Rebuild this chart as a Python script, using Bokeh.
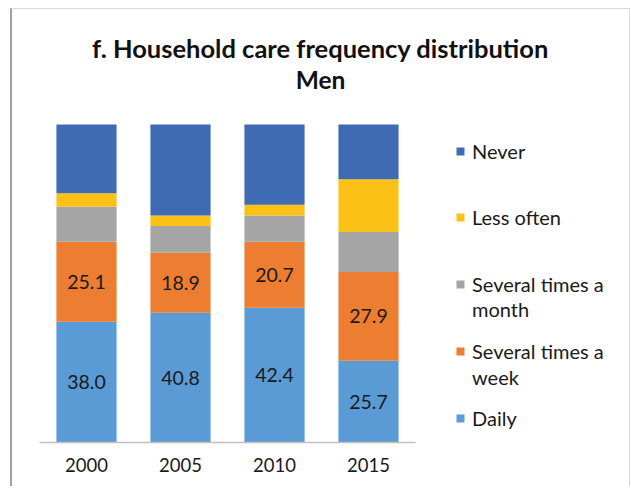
from bokeh.plotting import figure
from bokeh.models import (ColumnDataSource, Legend, LegendItem, LabelSet, Label,
                          FixedTicker, Range1d)
from bokeh.core.properties import value
from bokeh.embed import file_html
from bokeh.resources import INLINE

years = ["2000", "2005", "2010", "2015"]
categories = ["Daily", "Several times a week", "Several times a month", "Less often", "Never"]
daily = [38.0, 40.8, 42.4, 25.7]
weekly = [25.1, 18.9, 20.7, 27.9]
monthly = [11.0, 8.4, 8.3, 12.6]
less_often = [4.3, 3.3, 3.4, 16.6]
never = [21.6, 28.6, 25.2, 17.2]
colors = ["#5B9BD5", "#ED7D31", "#A5A5A5", "#FBC116", "#3F6BB5"]
title_lines = ["f. Household care frequency distribution", "Men"]
# legend lines, top to bottom: (text, index of series or None for a continuation line)
legend_lines = [("Never", 4), ("Less often", 3), ("Several times a", 2), ("month", None),
                ("Several times a", 1), ("week", None), ("Daily", 0)]

FONT = "Lato"

pos = [i + 0.5 for i in range(len(years))]
data = {"x": pos, "Daily": daily, "Several times a week": weekly,
        "Several times a month": monthly, "Less often": less_often, "Never": never}
data["daily_mid"] = [d / 2 for d in daily]
data["week_mid"] = [d + w / 2 for d, w in zip(daily, weekly)]
data["daily_lbl"] = ["%.1f" % v for v in daily]
data["week_lbl"] = ["%.1f" % v for v in weekly]
source = ColumnDataSource(data)

FRAME_W, FRAME_H = 617, 433
p = figure(x_range=Range1d(-27 / 94, (FRAME_W - 27) / 94),
           y_range=Range1d(0, 100 * FRAME_H / 318),
           frame_width=FRAME_W, frame_height=FRAME_H,
           output_backend="svg", toolbar_location=None,
           min_border_left=0, min_border_right=0, min_border_top=0, min_border_bottom=44)
p.styles = {"margin-left": "10px", "margin-top": "8px",
            "border-left": "2px solid #a0a0a0", "border-top": "1px solid #d9d9d9",
            "border-right": "1px solid #d9d9d9"}

renderers = p.vbar_stack(categories, x="x", width=0.64, color=colors, source=source,
                         line_color=None)
dummy = p.vbar(x=[], top=[], width=0.5, fill_alpha=0, line_alpha=0)

for col, lbl in [("daily_mid", "daily_lbl"), ("week_mid", "week_lbl")]:
    p.add_layout(LabelSet(x="x", y=col, text=lbl, source=source,
                          text_align="center", text_baseline="middle",
                          text_font=value(FONT), text_font_size="19.5px", text_color="#1a1a1a"))

legend_vy = [279, 213, 146, 121, 79, 53, 12]
for (txt, idx), vy in zip(legend_lines, legend_vy):
    r = renderers[idx] if idx is not None else dummy
    lg = Legend(items=[LegendItem(label=txt, renderers=[r])], location=(443, vy))
    lg.label_text_font = FONT
    lg.label_text_font_size = "20px"
    lg.label_text_color = "#1a1a1a"
    lg.label_height = 24
    lg.glyph_width = 10
    lg.glyph_height = 10
    lg.label_standoff = 7
    lg.padding = 0
    lg.margin = 0
    lg.border_line_color = None
    lg.background_fill_alpha = 0
    p.add_layout(lg)

for txt, ty, fs in zip(title_lines, [395, 363], ["25.5px", "24.5px"]):
    p.add_layout(Label(x=308, y=ty, x_units="screen", y_units="screen", text=txt,
                       text_align="center", text_baseline="middle",
                       text_font=FONT, text_font_size=fs,
                       text_font_style="bold", text_color="#111111"))

p.yaxis.visible = False
p.xgrid.visible = False
p.ygrid.visible = False
p.outline_line_color = None
p.xaxis.ticker = FixedTicker(ticks=pos)
p.xaxis.major_label_overrides = {x: y for x, y in zip(pos, years)}
p.xaxis.bounds = (0, len(years))
p.xaxis.axis_line_color = "#BFBFBF"
p.xaxis.axis_line_width = 1.5
p.xaxis.major_tick_line_color = None
p.xaxis.minor_tick_line_color = None
p.xaxis.major_label_text_font = FONT
p.xaxis.major_label_text_font_size = "18.5px"
p.xaxis.major_label_text_color = "#1a1a1a"
p.xaxis.major_label_standoff = 9

open("out.html", "w").write(file_html(p, INLINE))
